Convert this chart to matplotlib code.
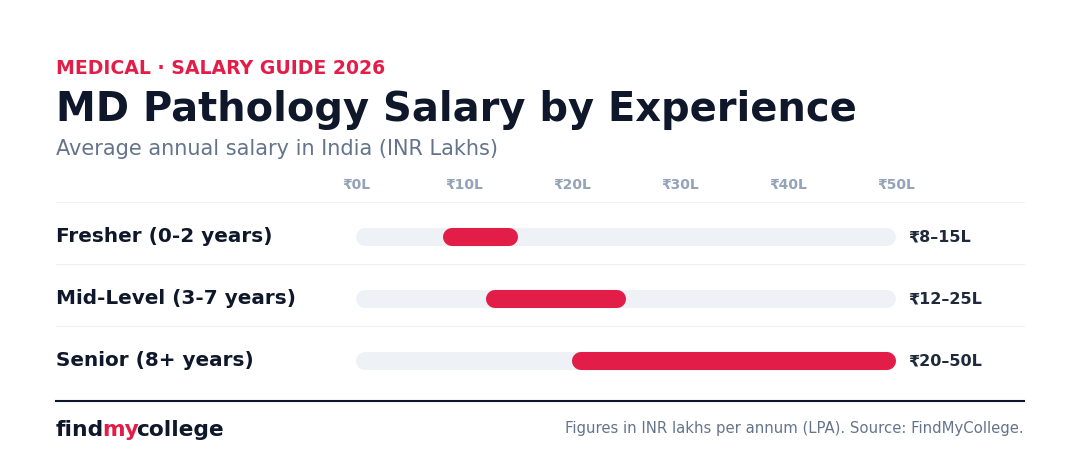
import matplotlib
matplotlib.use("Agg")
import matplotlib.pyplot as plt
from matplotlib.font_manager import FontProperties
plt.rcParams['font.family'] = ['DejaVu Sans']

categories = ["Fresher (0-2 years)", "Mid-Level (3-7 years)", "Senior (8+ years)"]
lows = [8, 12, 20]
highs = [15, 25, 50]
value_labels = ["₹8–15L", "₹12–25L", "₹20–50L"]
ticks = [0, 10, 20, 30, 40, 50]
tick_labels = ["₹0L", "₹10L", "₹20L", "₹30L", "₹40L", "₹50L"]

W, H = 1080, 474
fig = plt.figure(figsize=(W/100, H/100), dpi=100)
fig.patch.set_facecolor("white")
def fy(y): return 1 - y/H
def fx(x): return x/W

RED = "#e11d48"; DARK = "#0f172a"; GREY = "#64748b"
fig.text(fx(56), fy(68), "MEDICAL · SALARY GUIDE 2026", color=RED, fontsize=13.6, fontweight="bold", va="center")
fig.text(fx(56), fy(110), "MD Pathology Salary by Experience", color=DARK, fontsize=28.8, fontweight="bold", va="center")
fig.text(fx(56), fy(149), "Average annual salary in India (INR Lakhs)", color=GREY, fontsize=15, va="center")

rows_y = [237, 299, 361]
top, bot = 202, 392
ax = fig.add_axes([fx(356), fy(bot), fx(896)-fx(356), (bot-top)/H])
ax.set_xlim(0, 50)
ax.set_ylim(bot, top)
ax.axis("off")
inset = 0.85
for i, y in enumerate(rows_y):
    ax.plot([inset, 50-inset], [y, y], color="#eef2f7", lw=13, solid_capstyle="round")
    ax.plot([lows[i]+inset, highs[i]-inset], [y, y], color=RED, lw=13, solid_capstyle="round")
    fig.text(fx(56), fy(y), categories[i], color=DARK, fontsize=14.4, fontweight="bold", va="center")
    fig.text(fx(908), fy(y), value_labels[i], color="#1e293b", fontsize=11.5, fontweight="bold", va="center")
for t, lab in zip(ticks, tick_labels):
    fig.text(fx(356 + t*10.8), fy(185), lab, color="#94a3b8", fontsize=10, fontweight="bold", va="center", ha="center")

for y in [202, 264, 326]:
    fig.add_artist(plt.Line2D([fx(56), fx(1024)], [fy(y), fy(y)], color="#eef0f3", lw=0.8))
fig.add_artist(plt.Line2D([fx(56), fx(1024)], [fy(401), fy(401)], color=DARK, lw=1.5))

fp = FontProperties(family="DejaVu Sans", weight="bold", size=15.7)
fig.canvas.draw()
r = fig.canvas.get_renderer()
def w(s): return r.get_text_width_height_descent(s, fp, ismath=False)[0]
full = w("findmycollege")
x_my = 56 + full - w("mycollege") - 2.5
x_col = 56 + full - w("college") - 4.5
fig.text(fx(56), fy(430), "find", color=DARK, fontproperties=fp, va="center")
fig.text(fx(x_my), fy(430), "my", color=RED, fontproperties=fp, va="center")
fig.text(fx(x_col), fy(430), "college", color=DARK, fontproperties=fp, va="center")
fig.text(fx(1024), fy(429), "Figures in INR lakhs per annum (LPA). Source: FindMyCollege.", color=GREY, fontsize=10.75, va="center", ha="right")

fig.savefig("out.png", dpi=100, facecolor="white")
